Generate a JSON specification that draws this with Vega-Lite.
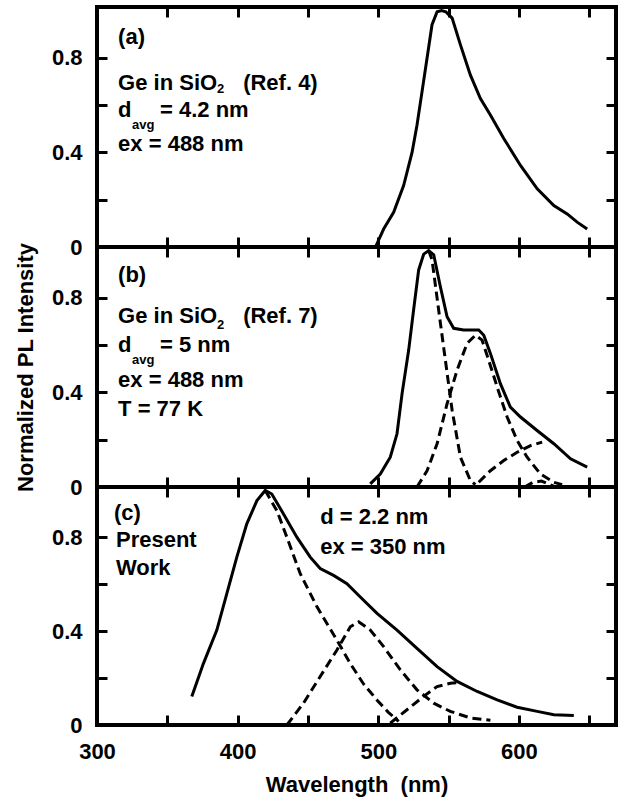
{
  "$schema": "https://vega.github.io/schema/vega-lite/v6.json",
  "background": "white",
  "padding": {"left": 12, "top": 2, "right": 0, "bottom": 0},
  "spacing": 0,
  "bounds": "flush",
  "config": {
    "view": {"stroke": "black", "strokeWidth": 4},
    "axis": {
      "domain": false, "grid": false, "tickColor": "black", "tickWidth": 3, "tickSize": -10,
      "labelFont": "Liberation Sans", "labelFontSize": 22, "labelFontWeight": "bold", "labelColor": "black",
      "titleFont": "Liberation Sans", "titleFontSize": 22, "titleFontWeight": "bold", "titleColor": "black",
      "labelFlush": false, "labelOverlap": false
    },
    "text": {"font": "Liberation Sans", "fontWeight": "bold", "color": "black", "align": "left", "baseline": "alphabetic"}
  },
  "datasets": {
    "curves": [
      {"panel": "a", "series": "total", "wl": 498, "I": 0.0},
      {"panel": "a", "series": "total", "wl": 503.8, "I": 0.076},
      {"panel": "a", "series": "total", "wl": 510.9, "I": 0.147},
      {"panel": "a", "series": "total", "wl": 518, "I": 0.26},
      {"panel": "a", "series": "total", "wl": 524, "I": 0.40},
      {"panel": "a", "series": "total", "wl": 527.5, "I": 0.515},
      {"panel": "a", "series": "total", "wl": 531.1, "I": 0.657},
      {"panel": "a", "series": "total", "wl": 534.7, "I": 0.80},
      {"panel": "a", "series": "total", "wl": 538.2, "I": 0.94},
      {"panel": "a", "series": "total", "wl": 541.8, "I": 0.995},
      {"panel": "a", "series": "total", "wl": 545, "I": 1.0},
      {"panel": "a", "series": "total", "wl": 548, "I": 0.995},
      {"panel": "a", "series": "total", "wl": 552.5, "I": 0.968},
      {"panel": "a", "series": "total", "wl": 558.4, "I": 0.855},
      {"panel": "a", "series": "total", "wl": 565.5, "I": 0.727},
      {"panel": "a", "series": "total", "wl": 572.6, "I": 0.628},
      {"panel": "a", "series": "total", "wl": 579.7, "I": 0.558},
      {"panel": "a", "series": "total", "wl": 589.2, "I": 0.459},
      {"panel": "a", "series": "total", "wl": 601.1, "I": 0.345},
      {"panel": "a", "series": "total", "wl": 613, "I": 0.246},
      {"panel": "a", "series": "total", "wl": 624.8, "I": 0.175},
      {"panel": "a", "series": "total", "wl": 634.3, "I": 0.14},
      {"panel": "a", "series": "total", "wl": 641.4, "I": 0.105},
      {"panel": "a", "series": "total", "wl": 648.5, "I": 0.076},

      {"panel": "b", "series": "total", "wl": 494.3, "I": 0.013},
      {"panel": "b", "series": "total", "wl": 501.4, "I": 0.055},
      {"panel": "b", "series": "total", "wl": 508.5, "I": 0.126},
      {"panel": "b", "series": "total", "wl": 513.3, "I": 0.225},
      {"panel": "b", "series": "total", "wl": 516.9, "I": 0.395},
      {"panel": "b", "series": "total", "wl": 521.6, "I": 0.579},
      {"panel": "b", "series": "total", "wl": 525.1, "I": 0.749},
      {"panel": "b", "series": "total", "wl": 528.7, "I": 0.918},
      {"panel": "b", "series": "total", "wl": 532.3, "I": 0.985},
      {"panel": "b", "series": "total", "wl": 535.8, "I": 1.0},
      {"panel": "b", "series": "total", "wl": 539.4, "I": 0.982},
      {"panel": "b", "series": "total", "wl": 544.1, "I": 0.848},
      {"panel": "b", "series": "total", "wl": 548.9, "I": 0.72},
      {"panel": "b", "series": "total", "wl": 553.6, "I": 0.671},
      {"panel": "b", "series": "total", "wl": 560.7, "I": 0.664},
      {"panel": "b", "series": "total", "wl": 571.4, "I": 0.664},
      {"panel": "b", "series": "total", "wl": 575, "I": 0.642},
      {"panel": "b", "series": "total", "wl": 579.7, "I": 0.565},
      {"panel": "b", "series": "total", "wl": 586.8, "I": 0.437},
      {"panel": "b", "series": "total", "wl": 593.9, "I": 0.338},
      {"panel": "b", "series": "total", "wl": 601.1, "I": 0.296},
      {"panel": "b", "series": "total", "wl": 612.9, "I": 0.239},
      {"panel": "b", "series": "total", "wl": 624.8, "I": 0.183},
      {"panel": "b", "series": "total", "wl": 636.7, "I": 0.119},
      {"panel": "b", "series": "total", "wl": 648.5, "I": 0.084},

      {"panel": "b", "series": "c1", "wl": 535.8, "I": 1.0},
      {"panel": "b", "series": "c1", "wl": 538.2, "I": 0.961},
      {"panel": "b", "series": "c1", "wl": 542.9, "I": 0.749},
      {"panel": "b", "series": "c1", "wl": 547.7, "I": 0.536},
      {"panel": "b", "series": "c1", "wl": 552.5, "I": 0.324},
      {"panel": "b", "series": "c1", "wl": 558.4, "I": 0.126},
      {"panel": "b", "series": "c1", "wl": 565.5, "I": 0.027},
      {"panel": "b", "series": "c1", "wl": 569, "I": 0.01},

      {"panel": "b", "series": "c2", "wl": 527.5, "I": 0.0},
      {"panel": "b", "series": "c2", "wl": 534.7, "I": 0.069},
      {"panel": "b", "series": "c2", "wl": 541.8, "I": 0.183},
      {"panel": "b", "series": "c2", "wl": 548.9, "I": 0.352},
      {"panel": "b", "series": "c2", "wl": 556, "I": 0.494},
      {"panel": "b", "series": "c2", "wl": 563.1, "I": 0.607},
      {"panel": "b", "series": "c2", "wl": 569, "I": 0.642},
      {"panel": "b", "series": "c2", "wl": 573.8, "I": 0.621},
      {"panel": "b", "series": "c2", "wl": 578.5, "I": 0.536},
      {"panel": "b", "series": "c2", "wl": 584.5, "I": 0.423},
      {"panel": "b", "series": "c2", "wl": 591.6, "I": 0.296},
      {"panel": "b", "series": "c2", "wl": 598.7, "I": 0.197},
      {"panel": "b", "series": "c2", "wl": 605.8, "I": 0.126},
      {"panel": "b", "series": "c2", "wl": 615.3, "I": 0.055},
      {"panel": "b", "series": "c2", "wl": 624.8, "I": 0.02},
      {"panel": "b", "series": "c2", "wl": 630.7, "I": 0.01},

      {"panel": "b", "series": "c3", "wl": 571.4, "I": 0.02},
      {"panel": "b", "series": "c3", "wl": 579.7, "I": 0.069},
      {"panel": "b", "series": "c3", "wl": 589.2, "I": 0.112},
      {"panel": "b", "series": "c3", "wl": 598.7, "I": 0.147},
      {"panel": "b", "series": "c3", "wl": 608.2, "I": 0.175},
      {"panel": "b", "series": "c3", "wl": 616.5, "I": 0.19},

      {"panel": "b", "series": "c4", "wl": 604, "I": 0.0},
      {"panel": "b", "series": "c4", "wl": 610, "I": 0.02},
      {"panel": "b", "series": "c4", "wl": 616, "I": 0.025},
      {"panel": "b", "series": "c4", "wl": 622, "I": 0.01},
      {"panel": "b", "series": "c4", "wl": 626, "I": 0.0},

      {"panel": "c", "series": "total", "wl": 367.4, "I": 0.122},
      {"panel": "c", "series": "total", "wl": 375.7, "I": 0.263},
      {"panel": "c", "series": "total", "wl": 385.2, "I": 0.405},
      {"panel": "c", "series": "total", "wl": 392.3, "I": 0.56},
      {"panel": "c", "series": "total", "wl": 399.4, "I": 0.716},
      {"panel": "c", "series": "total", "wl": 406.5, "I": 0.858},
      {"panel": "c", "series": "total", "wl": 413.7, "I": 0.957},
      {"panel": "c", "series": "total", "wl": 419.6, "I": 1.0},
      {"panel": "c", "series": "total", "wl": 424.3, "I": 0.985},
      {"panel": "c", "series": "total", "wl": 432.6, "I": 0.9},
      {"panel": "c", "series": "total", "wl": 442.1, "I": 0.801},
      {"panel": "c", "series": "total", "wl": 451.6, "I": 0.716},
      {"panel": "c", "series": "total", "wl": 458.7, "I": 0.667},
      {"panel": "c", "series": "total", "wl": 468.2, "I": 0.638},
      {"panel": "c", "series": "total", "wl": 477.7, "I": 0.603},
      {"panel": "c", "series": "total", "wl": 487.2, "I": 0.546},
      {"panel": "c", "series": "total", "wl": 499.1, "I": 0.476},
      {"panel": "c", "series": "total", "wl": 513.3, "I": 0.405},
      {"panel": "c", "series": "total", "wl": 527.5, "I": 0.327},
      {"panel": "c", "series": "total", "wl": 541.8, "I": 0.249},
      {"panel": "c", "series": "total", "wl": 556, "I": 0.186},
      {"panel": "c", "series": "total", "wl": 570.3, "I": 0.143},
      {"panel": "c", "series": "total", "wl": 584.5, "I": 0.107},
      {"panel": "c", "series": "total", "wl": 598.7, "I": 0.076},
      {"panel": "c", "series": "total", "wl": 613, "I": 0.058},
      {"panel": "c", "series": "total", "wl": 624.8, "I": 0.044},
      {"panel": "c", "series": "total", "wl": 639, "I": 0.041},

      {"panel": "c", "series": "c1", "wl": 419.6, "I": 1.0},
      {"panel": "c", "series": "c1", "wl": 427.9, "I": 0.914},
      {"panel": "c", "series": "c1", "wl": 435, "I": 0.801},
      {"panel": "c", "series": "c1", "wl": 444.5, "I": 0.645},
      {"panel": "c", "series": "c1", "wl": 456.4, "I": 0.504},
      {"panel": "c", "series": "c1", "wl": 470.6, "I": 0.362},
      {"panel": "c", "series": "c1", "wl": 480, "I": 0.263},
      {"panel": "c", "series": "c1", "wl": 489.5, "I": 0.175},
      {"panel": "c", "series": "c1", "wl": 499, "I": 0.107},
      {"panel": "c", "series": "c1", "wl": 507, "I": 0.055},
      {"panel": "c", "series": "c1", "wl": 514.5, "I": 0.015},

      {"panel": "c", "series": "c2", "wl": 435, "I": 0.0},
      {"panel": "c", "series": "c2", "wl": 446.8, "I": 0.093},
      {"panel": "c", "series": "c2", "wl": 458.7, "I": 0.207},
      {"panel": "c", "series": "c2", "wl": 470.6, "I": 0.32},
      {"panel": "c", "series": "c2", "wl": 480.1, "I": 0.419},
      {"panel": "c", "series": "c2", "wl": 486, "I": 0.44},
      {"panel": "c", "series": "c2", "wl": 494.3, "I": 0.405},
      {"panel": "c", "series": "c2", "wl": 503.8, "I": 0.334},
      {"panel": "c", "series": "c2", "wl": 515.7, "I": 0.235},
      {"panel": "c", "series": "c2", "wl": 527.5, "I": 0.15},
      {"panel": "c", "series": "c2", "wl": 539.4, "I": 0.093},
      {"panel": "c", "series": "c2", "wl": 551.2, "I": 0.058},
      {"panel": "c", "series": "c2", "wl": 565.5, "I": 0.03},
      {"panel": "c", "series": "c2", "wl": 579.7, "I": 0.02},

      {"panel": "c", "series": "c3", "wl": 508.5, "I": 0.008},
      {"panel": "c", "series": "c3", "wl": 520.4, "I": 0.065},
      {"panel": "c", "series": "c3", "wl": 532.2, "I": 0.122},
      {"panel": "c", "series": "c3", "wl": 541.8, "I": 0.164},
      {"panel": "c", "series": "c3", "wl": 551.2, "I": 0.178},
      {"panel": "c", "series": "c3", "wl": 558.4, "I": 0.181}
    ],
    "notes": [
      {"panel": "a", "kind": "main", "wl": 315, "I": 0.858, "text": "(a)"},
      {"panel": "a", "kind": "main", "wl": 315, "I": 0.662, "text": "Ge in SiO"},
      {"panel": "a", "kind": "sub", "wl": 385.4, "I": 0.65, "text": "2"},
      {"panel": "a", "kind": "main", "wl": 403.9, "I": 0.662, "text": "(Ref. 4)"},
      {"panel": "a", "kind": "main", "wl": 315, "I": 0.55, "text": "d"},
      {"panel": "a", "kind": "sub", "wl": 324.9, "I": 0.5, "text": "avg"},
      {"panel": "a", "kind": "main", "wl": 344.8, "I": 0.55, "text": "= 4.2 nm"},
      {"panel": "a", "kind": "main", "wl": 315, "I": 0.405, "text": "ex = 488 nm"},

      {"panel": "b", "kind": "main", "wl": 315, "I": 0.866, "text": "(b)"},
      {"panel": "b", "kind": "main", "wl": 315, "I": 0.692, "text": "Ge in SiO"},
      {"panel": "b", "kind": "sub", "wl": 385.4, "I": 0.667, "text": "2"},
      {"panel": "b", "kind": "main", "wl": 403.9, "I": 0.692, "text": "(Ref. 7)"},
      {"panel": "b", "kind": "main", "wl": 315, "I": 0.573, "text": "d"},
      {"panel": "b", "kind": "sub", "wl": 324.9, "I": 0.522, "text": "avg"},
      {"panel": "b", "kind": "main", "wl": 344.8, "I": 0.573, "text": "= 5 nm"},
      {"panel": "b", "kind": "main", "wl": 315, "I": 0.425, "text": "ex = 488 nm"},
      {"panel": "b", "kind": "main", "wl": 315, "I": 0.301, "text": "T = 77 K"},

      {"panel": "c", "kind": "main", "wl": 312.1, "I": 0.875, "text": "(c)"},
      {"panel": "c", "kind": "main", "wl": 313.5, "I": 0.76, "text": "Present"},
      {"panel": "c", "kind": "main", "wl": 313.5, "I": 0.641, "text": "Work"},
      {"panel": "c", "kind": "main", "wl": 458.7, "I": 0.858, "text": "d = 2.2 nm"},
      {"panel": "c", "kind": "main", "wl": 458.7, "I": 0.73, "text": "ex = 350 nm"}
    ]
  },
  "vconcat": [
    {
      "width": 519, "height": 240,
      "resolve": {"axis": {"x": "independent", "y": "independent"}},
      "layer": [
        {
          "data": {"name": "curves"},
          "transform": [{"filter": "datum.panel === 'a' && datum.series === 'total'"}],
          "mark": {"type": "line", "color": "black", "strokeWidth": 3},
          "encoding": {
            "x": {"field": "wl", "type": "quantitative", "scale": {"domain": [300, 669], "nice": false, "zero": false},
                  "axis": {"orient": "bottom", "values": [300, 350, 400, 450, 500, 550, 600, 650], "labels": false, "title": null}},
            "y": {"field": "I", "type": "quantitative", "scale": {"domain": [0, 1.015], "nice": false},
                  "axis": {"orient": "left", "values": [0, 0.2, 0.4, 0.6, 0.8], "labelPadding": 25, "title": null,
                           "labelExpr": "datum.value < 0.01 ? '0' : abs(datum.value - 0.4) < 0.01 ? '0.4' : abs(datum.value - 0.8) < 0.01 ? '0.8' : ''"}}
          }
        },
        {
          "data": {"name": "curves"},
          "transform": [{"filter": "datum.panel === 'a' && datum.series === 'total'"}],
          "mark": {"type": "line", "opacity": 0},
          "encoding": {
            "x": {"field": "wl", "type": "quantitative", "axis": {"orient": "top", "values": [300, 350, 400, 450, 500, 550, 600, 650], "labels": false, "title": null}},
            "y": {"field": "I", "type": "quantitative", "axis": {"orient": "right", "values": [0, 0.2, 0.4, 0.6, 0.8], "labels": false, "title": null}}
          }
        },
        {
          "data": {"name": "notes"},
          "transform": [{"filter": "datum.panel === 'a' && datum.kind === 'main'"}],
          "mark": {"type": "text", "fontSize": 22},
          "encoding": {
            "x": {"field": "wl", "type": "quantitative", "axis": null},
            "y": {"field": "I", "type": "quantitative", "axis": null},
            "text": {"field": "text"}
          }
        },
        {
          "data": {"name": "notes"},
          "transform": [{"filter": "datum.panel === 'a' && datum.kind === 'sub'"}],
          "mark": {"type": "text", "fontSize": 13},
          "encoding": {
            "x": {"field": "wl", "type": "quantitative", "axis": null},
            "y": {"field": "I", "type": "quantitative", "axis": null},
            "text": {"field": "text"}
          }
        }
      ]
    },
    {
      "width": 519, "height": 240,
      "resolve": {"axis": {"x": "independent", "y": "independent"}},
      "layer": [
        {
          "data": {"name": "curves"},
          "transform": [{"filter": "datum.panel === 'b' && datum.series === 'total'"}],
          "mark": {"type": "line", "color": "black", "strokeWidth": 3},
          "encoding": {
            "x": {"field": "wl", "type": "quantitative", "scale": {"domain": [300, 669], "nice": false, "zero": false},
                  "axis": {"orient": "bottom", "values": [300, 350, 400, 450, 500, 550, 600, 650], "labels": false, "title": null}},
            "y": {"field": "I", "type": "quantitative", "scale": {"domain": [0, 1.015], "nice": false},
                  "axis": {"orient": "left", "values": [0, 0.2, 0.4, 0.6, 0.8], "labelPadding": 25, "title": "Normalized PL Intensity", "titlePadding": 14,
                           "labelExpr": "datum.value < 0.01 ? '0' : abs(datum.value - 0.4) < 0.01 ? '0.4' : abs(datum.value - 0.8) < 0.01 ? '0.8' : ''"}}
          }
        },
        {
          "data": {"name": "curves"},
          "transform": [{"filter": "datum.panel === 'b' && datum.series !== 'total'"}],
          "mark": {"type": "line", "color": "black", "strokeWidth": 3, "strokeDash": [9, 5]},
          "encoding": {
            "x": {"field": "wl", "type": "quantitative", "axis": null},
            "y": {"field": "I", "type": "quantitative", "axis": null},
            "detail": {"field": "series"}
          }
        },
        {
          "data": {"name": "curves"},
          "transform": [{"filter": "datum.panel === 'b' && datum.series === 'total'"}],
          "mark": {"type": "line", "opacity": 0},
          "encoding": {
            "x": {"field": "wl", "type": "quantitative", "axis": {"orient": "top", "values": [300, 350, 400, 450, 500, 550, 600, 650], "labels": false, "title": null}},
            "y": {"field": "I", "type": "quantitative", "axis": {"orient": "right", "values": [0, 0.2, 0.4, 0.6, 0.8], "labels": false, "title": null}}
          }
        },
        {
          "data": {"name": "notes"},
          "transform": [{"filter": "datum.panel === 'b' && datum.kind === 'main'"}],
          "mark": {"type": "text", "fontSize": 22},
          "encoding": {
            "x": {"field": "wl", "type": "quantitative", "axis": null},
            "y": {"field": "I", "type": "quantitative", "axis": null},
            "text": {"field": "text"}
          }
        },
        {
          "data": {"name": "notes"},
          "transform": [{"filter": "datum.panel === 'b' && datum.kind === 'sub'"}],
          "mark": {"type": "text", "fontSize": 13},
          "encoding": {
            "x": {"field": "wl", "type": "quantitative", "axis": null},
            "y": {"field": "I", "type": "quantitative", "axis": null},
            "text": {"field": "text"}
          }
        }
      ]
    },
    {
      "width": 519, "height": 238,
      "resolve": {"axis": {"x": "independent", "y": "independent"}},
      "layer": [
        {
          "data": {"name": "curves"},
          "transform": [{"filter": "datum.panel === 'c' && datum.series === 'total'"}],
          "mark": {"type": "line", "color": "black", "strokeWidth": 3},
          "encoding": {
            "x": {"field": "wl", "type": "quantitative", "scale": {"domain": [300, 669], "nice": false, "zero": false},
                  "axis": {"orient": "bottom", "values": [300, 350, 400, 450, 500, 550, 600, 650], "format": "d", "labelPadding": 26,
                           "labelExpr": "datum.value % 100 === 0 ? datum.label : ''", "title": "Wavelength\u00a0 (nm)", "titlePadding": 12}},
            "y": {"field": "I", "type": "quantitative", "scale": {"domain": [0, 1.015], "nice": false},
                  "axis": {"orient": "left", "values": [0, 0.2, 0.4, 0.6, 0.8], "labelPadding": 25, "title": null,
                           "labelExpr": "datum.value < 0.01 ? '0' : abs(datum.value - 0.4) < 0.01 ? '0.4' : abs(datum.value - 0.8) < 0.01 ? '0.8' : ''"}}
          }
        },
        {
          "data": {"name": "curves"},
          "transform": [{"filter": "datum.panel === 'c' && datum.series !== 'total'"}],
          "mark": {"type": "line", "color": "black", "strokeWidth": 3, "strokeDash": [9, 5]},
          "encoding": {
            "x": {"field": "wl", "type": "quantitative", "axis": null},
            "y": {"field": "I", "type": "quantitative", "axis": null},
            "detail": {"field": "series"}
          }
        },
        {
          "data": {"name": "curves"},
          "transform": [{"filter": "datum.panel === 'c' && datum.series === 'total'"}],
          "mark": {"type": "line", "opacity": 0},
          "encoding": {
            "x": {"field": "wl", "type": "quantitative", "axis": {"orient": "top", "values": [300, 350, 400, 450, 500, 550, 600, 650], "labels": false, "title": null}},
            "y": {"field": "I", "type": "quantitative", "axis": {"orient": "right", "values": [0, 0.2, 0.4, 0.6, 0.8], "labels": false, "title": null}}
          }
        },
        {
          "data": {"name": "notes"},
          "transform": [{"filter": "datum.panel === 'c' && datum.kind === 'main'"}],
          "mark": {"type": "text", "fontSize": 22},
          "encoding": {
            "x": {"field": "wl", "type": "quantitative", "axis": null},
            "y": {"field": "I", "type": "quantitative", "axis": null},
            "text": {"field": "text"}
          }
        }
      ]
    }
  ]
}
